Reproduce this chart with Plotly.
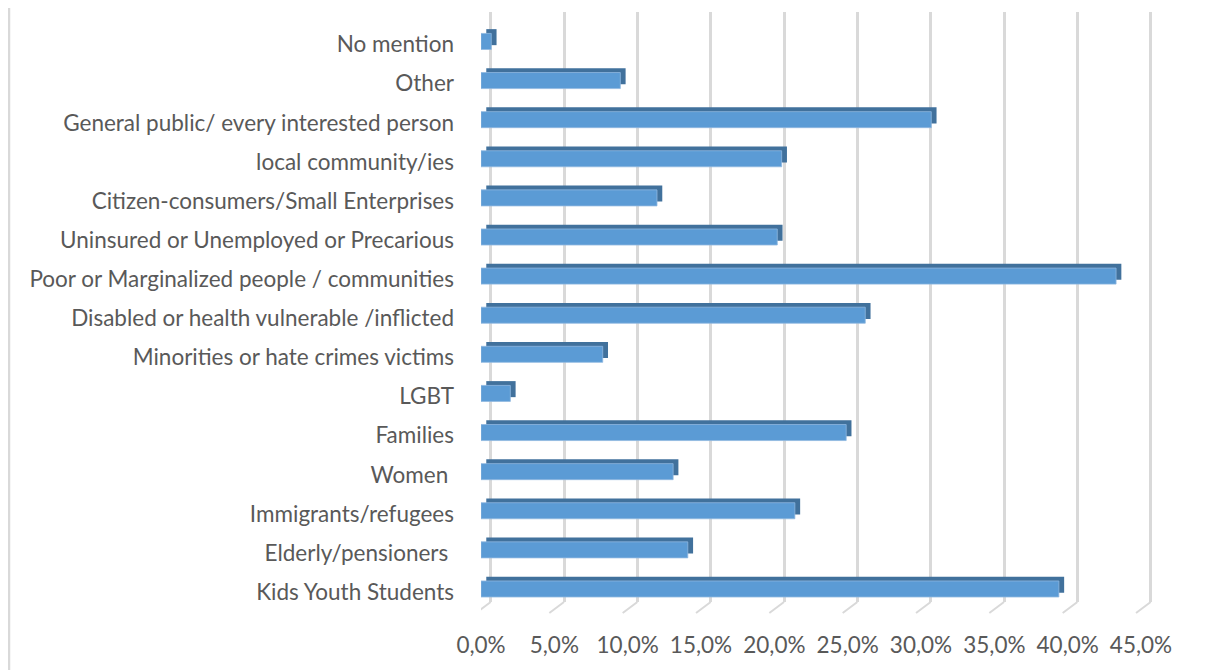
import plotly.graph_objects as go

# Categories listed bottom -> top
categories = [
    "Kids Youth Students",
    "Elderly/pensioners\u00a0",
    "Immigrants/refugees",
    "Women\u00a0",
    "Families",
    "LGBT",
    "Minorities or hate crimes victims",
    "Disabled or health vulnerable /inflicted",
    "Poor or Marginalized people / communities",
    "Uninsured or Unemployed or Precarious",
    "Citizen-consumers/Small Enterprises",
    "local community/ies",
    "General public/ every interested person",
    "Other",
    "No mention",
]
values = [39.4, 14.1, 21.4, 13.1, 24.9, 2.0, 8.3, 26.2, 43.3, 20.2, 12.0, 20.5, 30.7, 9.5, 0.7]
x_ticks = [0, 5, 10, 15, 20, 25, 30, 35, 40, 45]
x_tick_text = [f"{v:.1f}%".replace(".", ",") for v in x_ticks]

# layout / style constants (page body adds an 8px offset)
W, H = 1197, 662
ML, MR, MT, MB = 473, 53, 4, 68
PLOT_W = W - ML - MR
PLOT_H = H - MT - MB
X_MAX = 45.75
DX = 0.36      # depth of 3D effect along value axis (in %)
DY = 0.11      # depth of 3D effect along category axis
BW = 0.41      # bar thickness
LIFT = 0.077   # bars sit slightly above label centre
BACK_SHIFT = 0.66  # back-wall gridline shift (in %)
FLOOR_DX = 1.0     # floor tick slant (in %)
FLOOR_DY = 11      # floor tick drop (px)
FONT = "Lato"
FS = 22.5
TXT = "#595959"
GRID = "#D9D9D9"

fig = go.Figure()

# dark "depth" faces (top + right side)
fig.add_trace(go.Bar(
    y=categories, x=values, base=DX, orientation="h",
    width=BW, offset=-BW / 2 + LIFT + DY,
    marker=dict(color="#41719C", line=dict(width=0)),
    hoverinfo="skip", showlegend=False,
))
# front faces
fig.add_trace(go.Bar(
    y=categories, x=values, orientation="h",
    width=BW, offset=-BW / 2 + LIFT,
    marker=dict(color="#5B9BD5", line=dict(color="#8FB8E0", width=0.8)),
    showlegend=False,
))
# empty trace to carry back-wall grid axis
fig.add_trace(go.Scatter(x=[], y=[], xaxis="x2", yaxis="y", showlegend=False))

shapes = [dict(
    type="line", xref="paper", yref="paper",
    x0=(1 - ML) / PLOT_W, x1=(1 - ML) / PLOT_W,
    y0=-MB / PLOT_H, y1=1 + (MT + 8) / PLOT_H,
    line=dict(color=GRID, width=2.5),
)]
for t in x_ticks:
    shapes.append(dict(
        type="line", xref="x2", yref="paper", layer="below",
        x0=t, y0=0, x1=t - FLOOR_DX, y1=-FLOOR_DY / PLOT_H,
        line=dict(color=GRID, width=2),
    ))

fig.update_layout(
    width=W, height=H,
    margin=dict(l=ML, r=MR, t=MT, b=MB),
    paper_bgcolor="white", plot_bgcolor="white",
    barmode="overlay",
    separators=",.",
    font=dict(family=FONT, size=FS, color=TXT),
    xaxis=dict(
        range=[0, X_MAX], tickvals=x_ticks, ticktext=x_tick_text,
        showgrid=False, zeroline=False, showline=False, ticks="",
        ticklabelstandoff=27,
        tickfont=dict(family=FONT, size=FS, color=TXT),
    ),
    xaxis2=dict(
        overlaying="x", anchor="y", side="bottom",
        range=[-BACK_SHIFT, X_MAX - BACK_SHIFT], tickvals=x_ticks,
        showticklabels=False, showgrid=True, gridcolor=GRID, gridwidth=2.5,
        zeroline=False, showline=False, ticks="",
    ),
    yaxis=dict(
        type="category", range=[-0.256, 14.83],
        showgrid=False, zeroline=False, showline=False, ticks="",
        ticklabelstandoff=26,
        tickfont=dict(family=FONT, size=FS, color=TXT),
    ),
    shapes=shapes,
)

fig.write_html("out.html")
